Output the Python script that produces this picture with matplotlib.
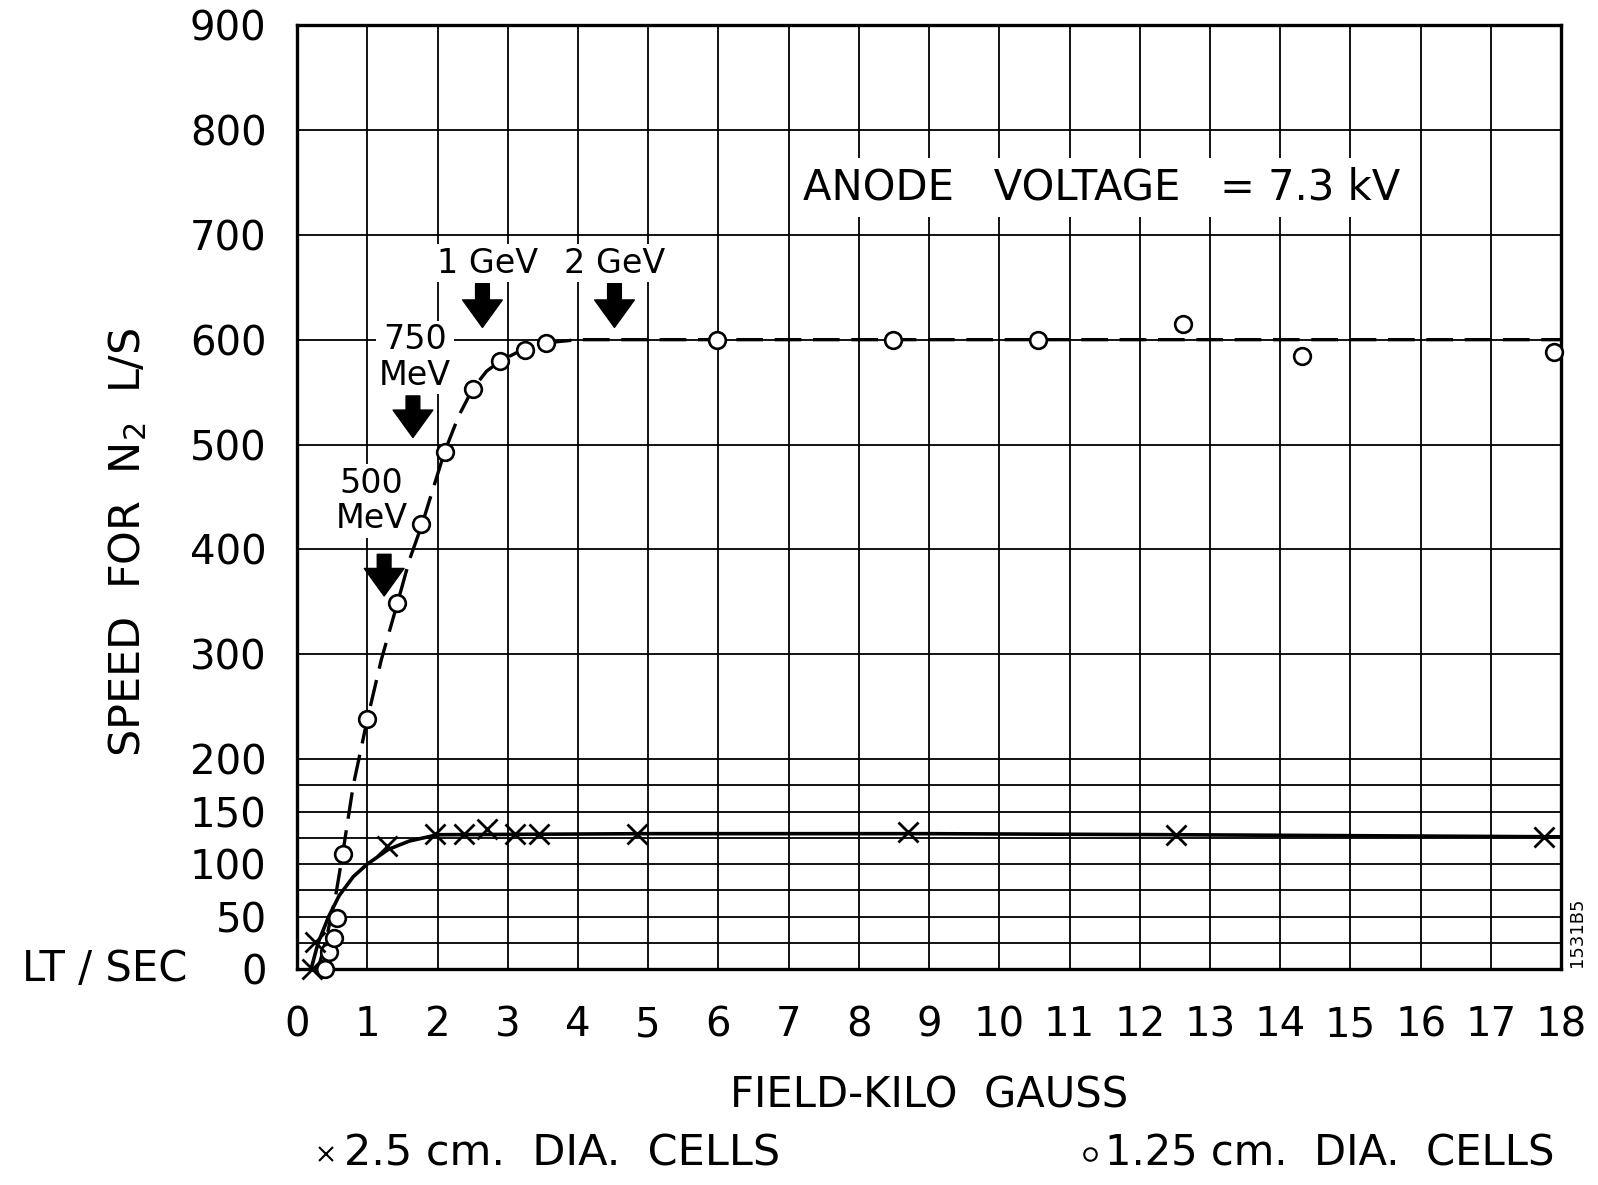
import matplotlib
matplotlib.use("Agg")
import matplotlib.pyplot as plt

# measured points, 1.25 cm cells (open circles)
circ_x = [0.40, 0.46, 0.52, 0.57, 0.65, 0.99, 1.43, 1.77, 2.11, 2.50, 2.89, 3.24, 3.55,
          5.98, 8.48, 10.55, 12.61, 14.31, 17.90]
circ_y = [0, 16, 30, 49, 110, 238, 349, 424, 493, 553, 580, 590, 597,
          600, 600, 600, 615, 584, 588]

# measured points, 2.5 cm cells (crosses)
cross_x = [0.21, 0.26, 1.28, 1.96, 2.38, 2.71, 3.10, 3.44, 4.84, 8.70, 12.51, 17.76]
cross_y = [0, 26, 117, 129, 129, 133, 129, 129, 129, 131, 128, 126]

# hand-drawn curves
curve_o_x = [0.30, 0.42, 0.55, 0.65, 0.80, 1.00, 1.20, 1.43, 1.60, 1.78, 2.10, 2.30,
             2.50, 2.70, 2.90, 3.20, 3.55, 4.00, 18.0]
curve_o_y = [0, 30, 70, 110, 175, 238, 295, 349, 390, 424, 493, 527,
             553, 570, 580, 590, 597, 600, 600]
curve_x_x = [0.20, 0.30, 0.45, 0.60, 0.80, 1.00, 1.30, 1.60, 2.00, 5.0, 9.0, 12.5, 18.0]
curve_x_y = [0, 25, 50, 70, 88, 100, 114, 122, 128, 129, 129, 128, 126]

# energy marks: (label, text x, text y, arrow x, arrow top, arrow bottom)
energies = [
    ("1 GeV", 2.71, 673, 2.64, 656, 609),
    ("2 GeV", 4.52, 673, 4.52, 656, 609),
    ("750\nMeV", 1.68, 583, 1.65, 549, 504),
    ("500\nMeV", 1.06, 446, 1.24, 398, 353),
]

xticks = list(range(0, 19))
yticks = [0, 50, 100, 150, 200, 300, 400, 500, 600, 700, 800, 900]
hgrid = [0, 25, 50, 75, 100, 125, 150, 175, 200, 300, 400, 500, 600, 700, 800, 900]

plt.rcParams['font.family'] = 'DejaVu Sans'

fig = plt.figure(figsize=(15.98, 11.85), dpi=100)
ax = fig.add_axes([0.1859, 0.1823, 0.791, 0.7966])
ax.set_xlim(0, 18)
ax.set_ylim(0, 900)

# grid
for gx in xticks:
    ax.axvline(gx, color='black', lw=1.3, zorder=1)
for gy in hgrid:
    ax.axhline(gy, color='black', lw=1.3, zorder=1)

for s in ax.spines.values():
    s.set_linewidth(2.4)

# curves
ax.plot(curve_o_x, curve_o_y, color='black', lw=2.4, dashes=(8, 3.5), zorder=3)
ax.plot(curve_x_x, curve_x_y, color='black', lw=2.6, zorder=3)

# points
ax.plot(circ_x, circ_y, 'o', ms=12, mfc='white', mec='black', mew=1.9,
        clip_on=False, zorder=5)
ax.plot(cross_x, cross_y, 'x', ms=14, color='black', mew=2.0, clip_on=False, zorder=5)

ax.set_xticks(xticks)
ax.set_yticks(yticks)
ax.tick_params(length=0, labelsize=29, pad=22)
ax.tick_params(axis='x', pad=26)

ax.set_ylabel("SPEED  FOR  N$_2$  L/S", fontsize=31)
ax.yaxis.set_label_coords(-0.117, 0.452)
ax.set_xlabel("FIELD-KILO  GAUSS", fontsize=30)
ax.xaxis.set_label_coords(0.5, -0.112)

ax.text(-0.152, 0.0, "LT / SEC", transform=ax.transAxes, fontsize=30,
        ha='center', va='center')

ax.text(7.2, 745, "ANODE   VOLTAGE   = 7.3 kV", fontsize=30, ha='left', va='center',
        zorder=6, bbox=dict(facecolor='white', edgecolor='none', pad=6))

for label, tx, ty, axx, top, bot in energies:
    ax.text(tx, ty, label, fontsize=24, ha='center', va='center', linespacing=1.1,
            zorder=6, bbox=dict(facecolor='white', edgecolor='none', pad=2))
    ax.annotate('', xy=(axx, bot), xytext=(axx, top),
                arrowprops=dict(arrowstyle='simple,head_length=0.9,head_width=1.3,tail_width=0.45',
                                color='black', mutation_scale=22), zorder=6)

# legend line below the axis
ax.plot([0.023], [-0.196], 'x', ms=10, color='black', mew=1.5,
        transform=ax.transAxes, clip_on=False)
ax.text(0.037, -0.196, "2.5 cm.  DIA.  CELLS", transform=ax.transAxes, fontsize=31,
        ha='left', va='center')
ax.plot([0.627], [-0.196], 'o', ms=9, mfc='white', mec='black', mew=1.5,
        transform=ax.transAxes, clip_on=False)
ax.text(0.639, -0.196, "1.25 cm.  DIA.  CELLS", transform=ax.transAxes, fontsize=30,
        ha='left', va='center')

fig.text(0.987, 0.213, "1531B5", rotation=90, fontsize=13, ha='center', va='center')

fig.savefig("out.png", dpi=100)
